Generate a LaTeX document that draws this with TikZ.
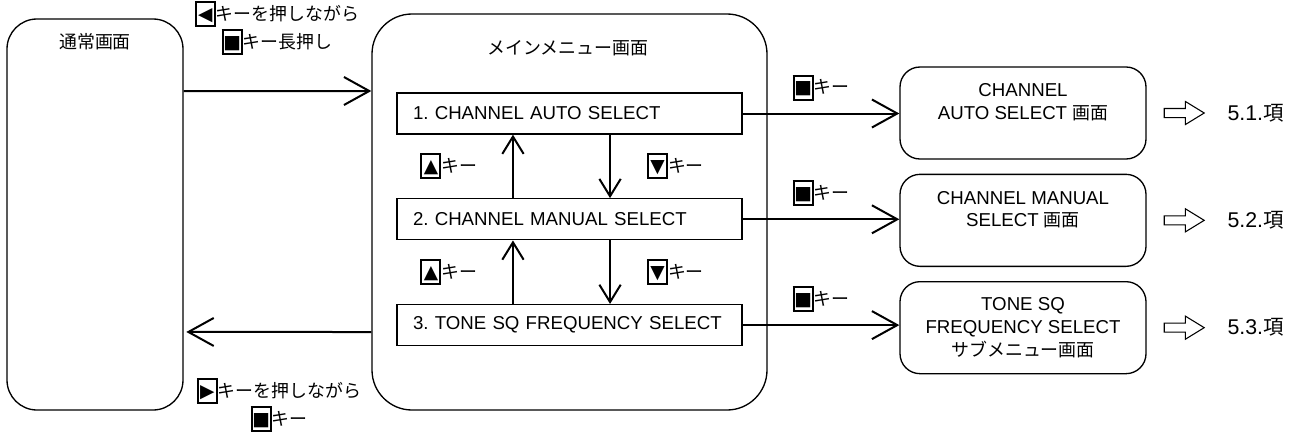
\documentclass[tikz,border=0pt]{standalone}
\usepackage{fontspec}
\setmainfont{Liberation Sans}
\newfontfamily\jp[Scale=0.96]{Noto Sans CJK JP}
\newfontfamily\symfont{DejaVu Sans}
\usetikzlibrary{arrows.meta, positioning, shapes.arrows}
\frenchspacing

% framed key symbol, as printed on the unit
\newcommand{\keybox}[1]{{\setlength\fboxrule{1.5pt}\setlength\fboxsep{1pt}%
  \fbox{\makebox[10.75pt]{\rule[-2.5pt]{0pt}{14.5pt}\symfont #1}}}}
\newcommand{\keyname}{{\jp キー}}

\begin{document}
\begin{tikzpicture}[
    x=0.75pt, y=-0.75pt,
    font=\fontsize{14pt}{17pt}\selectfont,
    screen/.style={rectangle, draw, line width=1pt, rounded corners=22.5pt,
                   minimum width=132pt, minimum height=293.25pt},
    menubox/.style={rectangle, draw, line width=1pt, rounded corners=30pt,
                   minimum width=296.25pt, minimum height=297pt},
    itembox/.style={rectangle, draw, line width=1pt, minimum height=30.75pt,
                   inner xsep=12pt, text width=234.75pt, align=left},
    resultbox/.style={rectangle, draw, line width=1pt, rounded corners=15pt,
                   minimum width=184.5pt, minimum height=69pt, align=center},
    keylbl/.style={inner sep=0pt, align=center},
    fatarr/.style={single arrow, draw, line width=0.8pt, minimum height=30pt,
                   inner sep=3pt, single arrow head extend=5.25pt, single arrow tip angle=63},
    sectlbl/.style={inner sep=0pt, font=\fontsize{16pt}{19pt}\selectfont},
    bigarr/.style={-{Straight Barb[length=19pt, width=21pt]}, line width=1.5pt},
    smallarr/.style={-{Straight Barb[length=13pt, width=16pt]}, line width=1.5pt}
]
\useasboundingbox (0,0) rectangle (1299,436);

%% ===== SCREENS =====
\node[screen]  (normal) at (95,214.5) {};
\node (normaltitle) at (95,42) {{\jp 通常画面}};

\node[menubox] (menu) at (569.5,212) {};
\node (menutitle) at (568,48) {{\jp メインメニュー画面}};

%% menu items
\node[itembox] (item1) at (569.5,113.5) {1. CHANNEL AUTO SELECT};
\node[itembox, below=47.6pt of item1] (item2) {2. CHANNEL MANUAL SELECT};
\node[itembox, below=47.6pt of item2] (item3) {3. TONE SQ FREQUENCY SELECT};

%% target screens (empty last line keeps text at the top)
\node[resultbox] (result1) at (1023,113) {CHANNEL\\AUTO SELECT {\jp 画面}\\\mbox{}};
\node[resultbox, below=10.5pt of result1] (result2) {CHANNEL MANUAL\\SELECT {\jp 画面}\\\mbox{}};
\node[resultbox, below=10.5pt of result2] (result3) {TONE SQ\\FREQUENCY SELECT\\{\jp サブメニュー画面}};

%% see-section pointers
\node[fatarr, right=12.75pt of result1] (go1) {};
\node[fatarr, right=12.75pt of result2] (go2) {};
\node[fatarr, right=12.75pt of result3] (go3) {};
\node[sectlbl, right=16.5pt of go1] (sect1) {5.1.{\jp 項}};
\node[sectlbl, right=16.5pt of go2] (sect2) {5.2.{\jp 項}};
\node[sectlbl, right=16.5pt of go3] (sect3) {5.3.{\jp 項}};

%% ===== ARROWS: normal <-> menu =====
\draw[bigarr] ([yshift=92.6pt]normal.east) -- ([yshift=90.75pt]menu.west);
\draw[bigarr] ([yshift=-90pt]menu.west) -- ([xshift=2pt, yshift=-88.1pt]normal.east);

\node[keylbl] (enterkey) at (277,28)
  {\keybox{◀}\keyname{\jp を押しながら}\\\keybox{■}{\jp キー長押し}};
\node[keylbl] (returnkey) at (279,405)
  {\keybox{▶}\keyname{\jp を押しながら}\\\keybox{■}\keyname};

%% ===== ARROWS: up / down in the menu =====
\draw[smallarr] ([xshift=-42.4pt]item2.north) -- ([xshift=-42.4pt]item1.south)
  node[midway, left=26pt, keylbl] (upkey1) {\keybox{▲}\keyname};
\draw[smallarr] ([xshift=30.4pt]item1.south) -- ([xshift=30.4pt]item2.north)
  node[midway, right=27pt, keylbl] (downkey1) {\keybox{▼}\keyname};
\draw[smallarr] ([xshift=-42.4pt]item3.north) -- ([xshift=-42.4pt]item2.south)
  node[midway, left=26pt, keylbl] (upkey2) {\keybox{▲}\keyname};
\draw[smallarr] ([xshift=30.4pt]item2.south) -- ([xshift=30.4pt]item3.north)
  node[midway, right=27pt, keylbl] (downkey2) {\keybox{▼}\keyname};

%% ===== ARROWS: select =====
\draw[bigarr] (item1.east) -- (item1.east -| result1.west)
  node[midway, above=9pt, keylbl] (selkey1) {\keybox{■}\keyname};
\draw[bigarr] (item2.east) -- (item2.east -| result2.west)
  node[midway, above=9pt, keylbl] (selkey2) {\keybox{■}\keyname};
\draw[bigarr] (item3.east) -- (item3.east -| result3.west)
  node[midway, above=9pt, keylbl] (selkey3) {\keybox{■}\keyname};

\end{tikzpicture}
\end{document}
